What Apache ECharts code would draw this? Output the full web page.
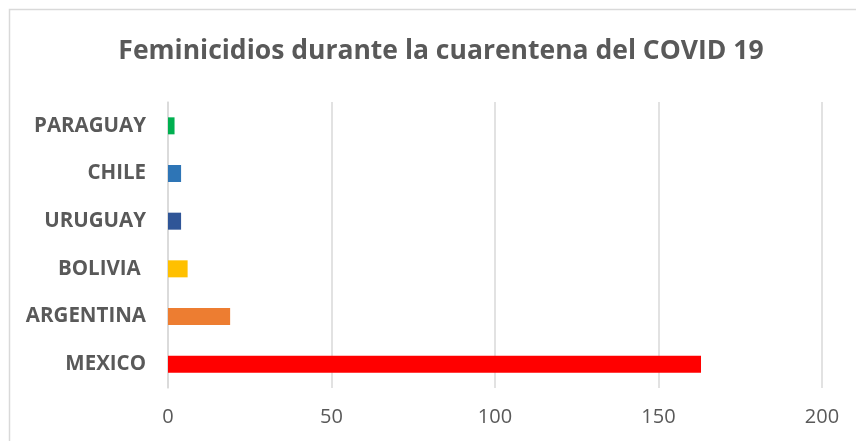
<!DOCTYPE html>
<html>
<head>
<meta charset="utf-8">
<script src="https://cdn.jsdelivr.net/npm/echarts@6/dist/echarts.min.js"></script>
<style>
    html, body { margin: 0; padding: 0; background: #fff; }
    #chart { width: 856px; height: 441px; }
</style>
</head>
<body>
<div id="chart"></div>
<script>
    const countries = ["MEXICO", "ARGENTINA", "BOLIVIA ", "URUGUAY", "CHILE", "PARAGUAY"];
    const cases = [163, 19, 6, 4, 4, 2];
    const barColors = ["#ff0000", "#ed7d31", "#ffc000", "#2f5597", "#2e75b6", "#00b050"];
    const xTicks = [0, 50, 100, 150, 200];

    const textColor = "#595959";
    const gridColor = "#d9d9d9";
    const font = "Open Sans";

    const chart = echarts.init(document.getElementById("chart"), null, { renderer: "canvas" });

    chart.setOption({
        backgroundColor: "#fff",
        animation: false,
        title: {
            text: "Feminicidios durante la cuarentena del COVID 19",
            left: 436,
            top: 33,
            textAlign: "center",
            textStyle: { color: textColor, fontFamily: font, fontWeight: "bold", fontSize: 26.5 }
        },
        graphic: [
            {
                type: "rect",
                shape: { x: 9.5, y: 9.5, width: 860, height: 450 },
                style: { fill: null, stroke: gridColor, lineWidth: 1.5 },
                silent: true
            }
        ],
        grid: { left: 168, right: 34, top: 102, bottom: 53 },
        xAxis: {
            type: "value",
            min: xTicks[0],
            max: xTicks[xTicks.length - 1],
            interval: xTicks[1] - xTicks[0],
            axisLine: { show: false },
            axisTick: { show: false },
            axisLabel: { color: textColor, fontFamily: font, fontSize: 20, margin: 19 },
            splitLine: { lineStyle: { color: gridColor, width: 1.5 } }
        },
        yAxis: {
            type: "category",
            data: countries,
            axisTick: { show: false },
            axisLine: { show: true, lineStyle: { color: gridColor, width: 1.5 } },
            axisLabel: { color: textColor, fontFamily: font, fontWeight: "bold", fontSize: 20.5, margin: 22 }
        },
        series: [
            {
                type: "bar",
                data: cases.map((v, i) => ({ value: v, itemStyle: { color: barColors[i] } })),
                barWidth: 17
            }
        ]
    });
</script>
</body>
</html>
